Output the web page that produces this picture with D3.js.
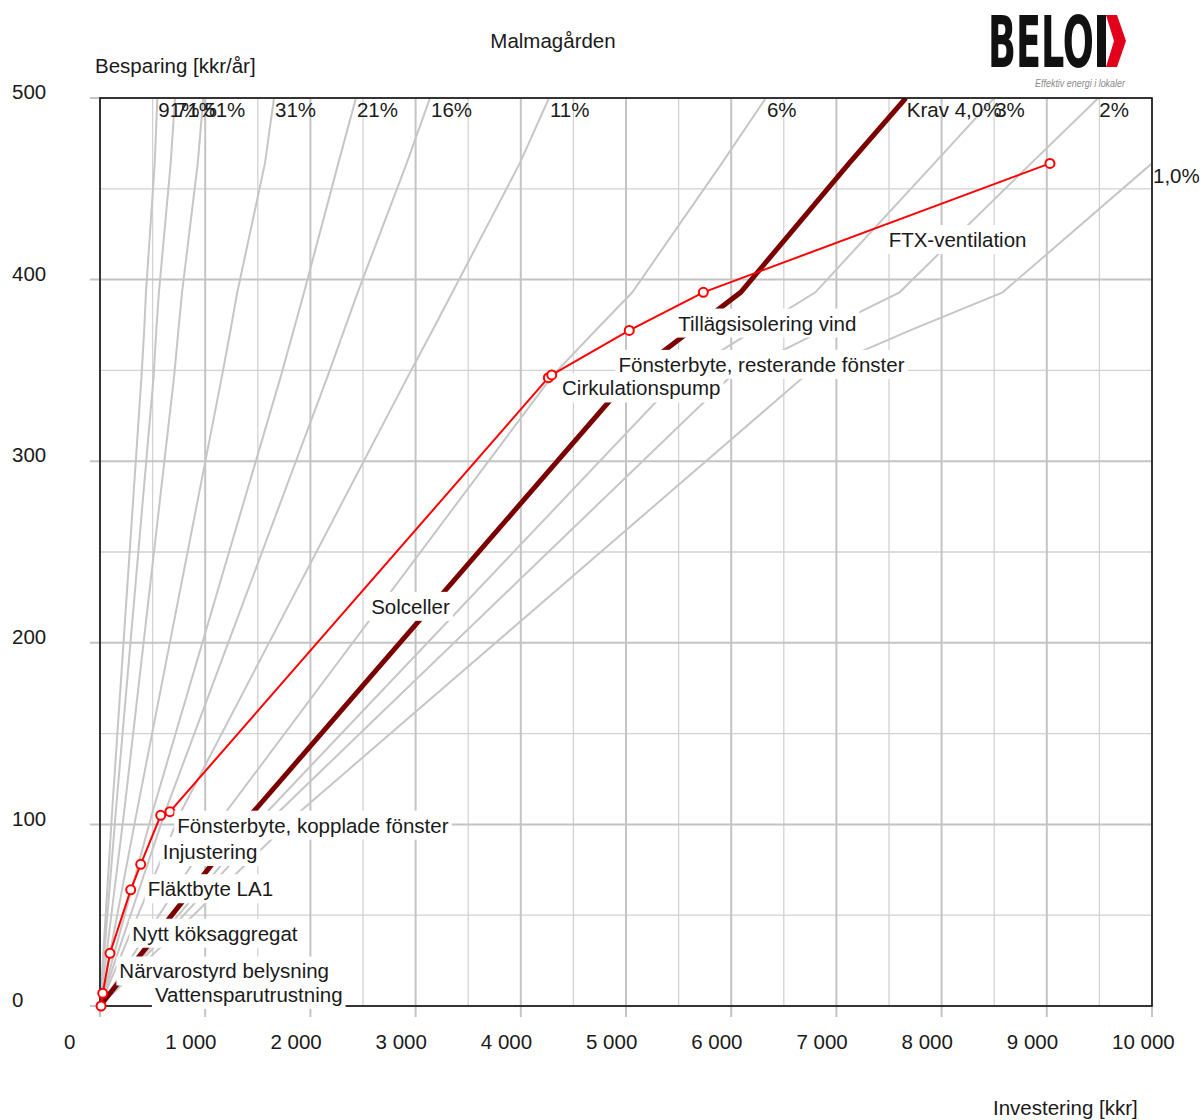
<html>
<head>
<script src="https://d3js.org/d3.v7.min.js"></script>
<style>
    body { margin: 0; background: #fff; }
    text { font-family: "Liberation Sans", Arial, sans-serif; font-size: 20.5px; fill: #1a1a1a; }
    .grid-major { stroke: #c4c4c4; stroke-width: 2px; }
    .grid-minor { stroke: #d2d2d2; stroke-width: 1.3px; }
    .frame { fill: none; stroke: #111; stroke-width: 1.6px; }
    .rate { fill: none; stroke: #c6c6c6; stroke-width: 2px; }
    .krav { fill: none; stroke: #7b0000; stroke-width: 5px; }
    .measures { fill: none; stroke: #ff0000; stroke-width: 2px; }
    .dot { fill: #fff; stroke: #ff0000; stroke-width: 2px; }
</style>
</head>
<body>
<svg id="chart" width="1203" height="1120"></svg>
<script>
    // measures in the order they are added (cumulative)
    const measures = ["Vattensparutrustning", "Närvarostyrd belysning", "Nytt köksaggregat", "Fläktbyte LA1",
        "Injustering", "Fönsterbyte, kopplade fönster", "Solceller", "Cirkulationspump",
        "Fönsterbyte, resterande fönster", "Tillägsisolering vind", "FTX-ventilation"];
    const investment = [10, 26, 95, 292, 387, 577, 665, 4262, 4294, 5031, 5735, 9030];
    const savings = [0, 7, 29, 64, 78, 105, 107, 346, 347.5, 372, 393, 464];

    // profitability lines: investment read at these savings levels
    const rateNames = ["91%", "71%", "51%", "31%", "21%", "16%", "11%", "6%", "Krav 4,0%", "3%", "2%", "1,0%"];
    const rateLevels = [0, 107, 347, 372, 393, 464, 500];
    const rateInvestment = [
        [0, 115, 395, 420, 437, 520, 545],
        [0, 150, 510, 535, 560, 672, 713],
        [0, 230, 705, 745, 780, 929, 982],
        [0, 350, 1160, 1240, 1305, 1568, 1654],
        [0, 500, 1720, 1840, 1940, 2265, 2433],
        [0, 620, 2165, 2320, 2450, 2915, 3137],
        [0, 770, 2930, 3160, 3350, 3990, 4268],
        [0, 1200, 4300, 4710, 5060, 5910, 6330],
        [0, 1460, 5050, 5615, 6090, 7120, 7660],
        [0, 1590, 5520, 6215, 6800, 7930, 8500],
        [0, 1700, 6000, 6870, 7600, 8850, 9490],
        [0, 1900, 6700, 7700, 8580, 10000, 10720]
    ];
    const kravIndex = 8;

    const xTicks = [0, 1000, 2000, 3000, 4000, 5000, 6000, 7000, 8000, 9000, 10000];
    const xMinor = [500, 1500, 2500, 3500, 4500, 5500, 6500, 7500, 8500, 9500];
    const yTicks = [0, 100, 200, 300, 400, 500];
    const yMinor = [50, 150, 250, 350, 450];

    const svg = d3.select("#chart");
    const x = d3.scaleLinear().domain([0, 10000]).range([100, 1152]);
    const y = d3.scaleLinear().domain([0, 500]).range([1006, 98]);
    const fmt = d3.formatLocale({ decimal: ",", thousands: " ", grouping: [3], currency: ["", ""] }).format(",");

    // grid
    const grid = svg.append("g");
    grid.selectAll(".xm").data(xMinor).join("line").attr("class", "grid-minor")
        .attr("x1", d => x(d)).attr("x2", d => x(d)).attr("y1", y(0)).attr("y2", y(500));
    grid.selectAll(".ym").data(yMinor).join("line").attr("class", "grid-minor")
        .attr("x1", x(0)).attr("x2", x(10000)).attr("y1", d => y(d)).attr("y2", d => y(d));
    grid.selectAll(".xM").data(xTicks).join("line").attr("class", "grid-major")
        .attr("x1", d => x(d)).attr("x2", d => x(d)).attr("y1", y(500)).attr("y2", y(0) + 11);
    grid.selectAll(".yM").data(yTicks).join("line").attr("class", "grid-major")
        .attr("x1", x(0) - 10).attr("x2", x(10000)).attr("y1", d => y(d)).attr("y2", d => y(d));

    // clip for the rate lines
    svg.append("clipPath").attr("id", "plot").append("rect")
        .attr("x", x(0)).attr("y", y(500)).attr("width", x(10000) - x(0)).attr("height", y(0) - y(500));

    const line = d3.line().x(d => x(d[0])).y(d => y(d[1]));
    const rates = svg.append("g").attr("clip-path", "url(#plot)");

    function exitPoint(pts) {
        for (let j = 1; j < pts.length; j++) {
            const [x0, y0] = pts[j - 1], [x1, y1] = pts[j];
            if (x1 >= 10000 && x0 < 10000) {
                const t = (10000 - x0) / (x1 - x0);
                const yy = y0 + t * (y1 - y0);
                if (yy <= 500) return [10000, yy];
            }
            if (y1 >= 500) {
                const t = (500 - y0) / (y1 - y0);
                return [x0 + t * (x1 - x0), 500];
            }
        }
        return pts[pts.length - 1];
    }

    const ratePts = rateInvestment.map(inv => inv.map((v, j) => [v, rateLevels[j]]));
    ratePts.forEach((pts, i) => {
        if (i === kravIndex) return;
        rates.append("path").attr("class", "rate").attr("d", line(pts));
    });
    rates.append("path").attr("class", "krav").attr("d", line(ratePts[kravIndex]));

    // frame
    svg.append("rect").attr("class", "frame")
        .attr("x", x(0)).attr("y", y(500)).attr("width", x(10000) - x(0)).attr("height", y(0) - y(500));

    // rate labels at the top / right edge
    ratePts.forEach((pts, i) => {
        const p = exitPoint(pts);
        svg.append("text").attr("x", x(p[0]) + 1).attr("y", y(p[1]) + 12).attr("dy", "0.35em")
            .text(rateNames[i]);
    });

    // measures line
    const mPts = investment.map((v, i) => [v, savings[i]]);
    svg.append("path").attr("class", "measures").attr("d", line(mPts));
    svg.selectAll(".dot").data(mPts).join("circle").attr("class", "dot")
        .attr("cx", d => x(d[0])).attr("cy", d => y(d[1])).attr("r", 4.5);

    // measure labels at segment midpoints, with white boxes
    const labelNudge = { 0: [41, -17], 1: [1, -14], 8: [16, 0] };
    const labels = svg.append("g");
    measures.forEach((name, i) => {
        const mx = (x(mPts[i][0]) + x(mPts[i + 1][0])) / 2;
        const my = (y(mPts[i][1]) + y(mPts[i + 1][1])) / 2;
        const n = labelNudge[i] || [0, 0];
        const g = labels.append("g");
        const t = g.append("text").attr("x", mx + 12 + n[0]).attr("y", my + 12 + n[1]).attr("dy", "0.35em").text(name);
        const b = t.node().getBBox();
        g.insert("rect", "text").attr("x", b.x - 3).attr("y", b.y - 3)
            .attr("width", b.width + 6).attr("height", b.height + 6).attr("fill", "#fff");
    });

    // tick labels
    svg.selectAll(".xl").data(xTicks).join("text")
        .attr("x", d => x(d) - (d === 0 ? 36 : 40)).attr("y", 1042).attr("dy", "0.35em")
        .text(d => fmt(d));
    svg.selectAll(".yl").data(yTicks).join("text")
        .attr("x", 12).attr("y", d => y(d) - 6).attr("dy", "0.35em")
        .text(d => d);

    // titles
    svg.append("text").attr("x", 553).attr("y", 41).attr("dy", "0.35em").attr("text-anchor", "middle").text("Malmagården");
    svg.append("text").attr("x", 95).attr("y", 66).attr("dy", "0.35em").text("Besparing [kkr/år]");
    svg.append("text").attr("x", 993).attr("y", 1108).attr("dy", "0.35em").text("Investering [kkr]");

    // logo
    const logo = svg.append("g");
    logo.append("text").attr("x", 988).attr("y", 67)
        .attr("textLength", 106).attr("lengthAdjust", "spacingAndGlyphs")
        .style("font-family", "'Liberation Sans Narrow', 'DejaVu Sans Condensed', sans-serif")
        .style("font-weight", "bold").style("font-size", "72px").style("fill", "#111")
        .text("BELO");
    logo.append("rect").attr("x", 1097).attr("y", 15).attr("width", 9).attr("height", 52).attr("fill", "#111");
    logo.append("polygon").attr("points", "1106,15 1117,15 1126,41 1117,67 1106,67 1114,41").attr("fill", "#e3001b");
    logo.append("text").attr("x", 1035).attr("y", 83).attr("dy", "0.35em")
        .attr("textLength", 90).attr("lengthAdjust", "spacingAndGlyphs")
        .style("font-size", "10px").style("font-style", "italic").style("fill", "#8a8a8a")
        .text("Effektiv energi i lokaler");
</script>
</body>
</html>
